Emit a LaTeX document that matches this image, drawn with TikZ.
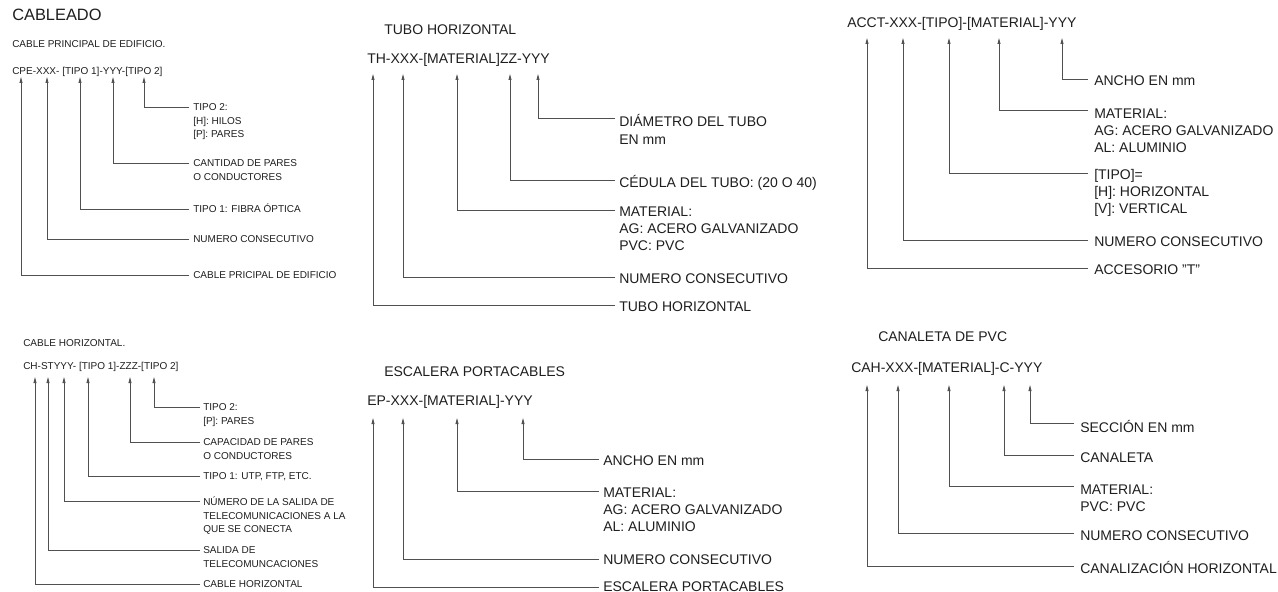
\documentclass[tikz,border=0pt]{standalone}
\usepackage{fontspec}
\setmainfont{Liberation Sans}
\usetikzlibrary{arrows.meta}
\definecolor{txt}{HTML}{1E1E1E}
\definecolor{ln}{HTML}{505050}
\tikzset{
  lblS/.style={anchor=base west, inner sep=0pt, text=txt, font=\fontsize{7.5}{10.1}\selectfont},
  lblL/.style={anchor=base west, inner sep=0pt, text=txt, font=\fontsize{10.5}{13}\selectfont},
  ttl/.style={anchor=base west, inner sep=0pt, text=txt, font=\fontsize{12.3}{14}\selectfont},
  leader/.style={draw=ln, line width=0.6pt, -{Triangle[length=4.5pt,width=2.2pt]}}
}
\newcommand\mlines[1]{\begin{tabular}[t]{@{}l@{}}#1\end{tabular}}
\newcommand\mkleader[5]{%
  \coordinate (#1-t) at (#2,#3);
  \coordinate (#1-e) at (#5,#4);
  \draw[leader] (#1-e) -| (#1-t);
}
\begin{document}
\begin{tikzpicture}[x=0.75pt,y=-0.75pt]
\useasboundingbox (0,0) rectangle (1278,592);

% ---------------- Panel 1: CABLEADO ----------------
\node[ttl] (p1title) at (12,20.5) {CABLEADO};
\node[lblS] (p1sub) at (12,47.6) {CABLE PRINCIPAL DE EDIFICIO.};
\node[lblS] (p1code) at (12,74.6) {CPE-XXX- [TIPO 1]-YYY-[TIPO 2]};
\node[lblS] (p1a) at (193,110.6) {\mlines{TIPO 2:\\{}[H]: HILOS\\{}[P]: PARES}};
\node[lblS] (p1b) at (193,166.6) {\mlines{CANTIDAD DE PARES\\O CONDUCTORES}};
\node[lblS] (p1c) at (193,212.6) {TIPO 1: FIBRA ÓPTICA};
\node[lblS] (p1d) at (193,242.6) {NUMERO CONSECUTIVO};
\node[lblS] (p1e) at (193,278.6) {CABLE PRICIPAL DE EDIFICIO};
\mkleader{l1a}{144}{77}{107}{189}
\mkleader{l1b}{113}{77}{163}{189}
\mkleader{l1c}{80}{77}{209}{189}
\mkleader{l1d}{47}{77}{239}{189}
\mkleader{l1e}{21}{77}{275}{189}

% ---------------- Panel 2: CABLE HORIZONTAL ----------------
\node[lblS] (p2sub) at (23,346.6) {CABLE HORIZONTAL.};
\node[lblS] (p2code) at (23,369.6) {CH-STYYY- [TIPO 1]-ZZZ-[TIPO 2]};
\node[lblS] (p2a) at (203,410.6) {\mlines{TIPO 2:\\{}[P]: PARES}};
\node[lblS] (p2b) at (203,445.6) {\mlines{CAPACIDAD DE PARES\\O CONDUCTORES}};
\node[lblS] (p2c) at (203,479.6) {TIPO 1: UTP, FTP, ETC.};
\node[lblS] (p2d) at (203,505.6) {\mlines{NÚMERO DE LA SALIDA DE\\TELECOMUNICACIONES A LA\\QUE SE CONECTA}};
\node[lblS] (p2e) at (203,553.6) {\mlines{SALIDA DE\\TELECOMUNCACIONES}};
\node[lblS] (p2f) at (203,587.6) {CABLE HORIZONTAL};
\mkleader{l2a}{154}{377}{407}{200}
\mkleader{l2b}{130}{377}{442}{200}
\mkleader{l2c}{88}{377}{476}{200}
\mkleader{l2d}{64}{377}{501}{200}
\mkleader{l2e}{48}{377}{550}{200}
\mkleader{l2f}{35}{377}{584}{200}

% ---------------- Panel 3: TUBO HORIZONTAL ----------------
\node[lblL] (p3title) at (384,35) {TUBO HORIZONTAL};
\node[lblL] (p3code) at (367,64) {TH-XXX-[MATERIAL]ZZ-YYY};
\node[lblL] (p3a) at (619,127) {\mlines{DIÁMETRO DEL TUBO\\EN mm}};
\node[lblL] (p3b) at (619,187) {CÉDULA DEL TUBO: (20 O 40)};
\node[lblL] (p3c) at (619,216) {\mlines{MATERIAL:\\AG: ACERO GALVANIZADO\\PVC: PVC}};
\node[lblL] (p3d) at (619,283) {NUMERO CONSECUTIVO};
\node[lblL] (p3e) at (619,311) {TUBO HORIZONTAL};
\mkleader{l3a}{538}{74}{118}{615}
\mkleader{l3b}{510}{74}{180}{615}
\mkleader{l3c}{457}{74}{210}{615}
\mkleader{l3d}{403}{74}{277}{615}
\mkleader{l3e}{373}{74}{305}{615}

% ---------------- Panel 4: ESCALERA PORTACABLES ----------------
\node[lblL] (p4title) at (384,376) {ESCALERA PORTACABLES};
\node[lblL] (p4code) at (367,405) {EP-XXX-[MATERIAL]-YYY};
\node[lblL] (p4a) at (603,465) {ANCHO EN mm};
\node[lblL] (p4b) at (603,497) {\mlines{MATERIAL:\\AG: ACERO GALVANIZADO\\AL: ALUMINIO}};
\node[lblL] (p4c) at (603,564) {NUMERO CONSECUTIVO};
\node[lblL] (p4d) at (603,591) {ESCALERA PORTACABLES};
\mkleader{l4a}{523}{418}{459}{599}
\mkleader{l4b}{457}{418}{491}{599}
\mkleader{l4c}{403}{418}{559}{599}
\mkleader{l4d}{373}{418}{587}{599}

% ---------------- Panel 5: ACCT ----------------
\node[lblL] (p5code) at (847,28) {ACCT-XXX-[TIPO]-[MATERIAL]-YYY};
\node[lblL] (p5a) at (1094,85) {ANCHO EN mm};
\node[lblL] (p5b) at (1094,118) {\mlines{MATERIAL:\\AG: ACERO GALVANIZADO\\AL: ALUMINIO}};
\node[lblL] (p5c) at (1094,179) {\mlines{[TIPO]=\\{}[H]: HORIZONTAL\\{}[V]: VERTICAL}};
\node[lblL] (p5d) at (1094,246) {NUMERO CONSECUTIVO};
\node[lblL] (p5e) at (1094,274) {ACCESORIO "T"};
\mkleader{l5a}{1062}{38}{79}{1088}
\mkleader{l5b}{999}{38}{110}{1088}
\mkleader{l5c}{949}{38}{173}{1088}
\mkleader{l5d}{903}{38}{240}{1088}
\mkleader{l5e}{867}{38}{268}{1088}

% ---------------- Panel 6: CANALETA DE PVC ----------------
\node[lblL] (p6title) at (878,341) {CANALETA DE PVC};
\node[lblL] (p6code) at (851,372) {CAH-XXX-[MATERIAL]-C-YYY};
\node[lblL] (p6a) at (1080,432) {SECCIÓN EN mm};
\node[lblL] (p6b) at (1080,462) {CANALETA};
\node[lblL] (p6c) at (1080,494) {\mlines{MATERIAL:\\PVC: PVC}};
\node[lblL] (p6d) at (1080,540) {NUMERO CONSECUTIVO};
\node[lblL] (p6e) at (1080,573) {CANALIZACIÓN HORIZONTAL};
\mkleader{l6a}{1030}{385}{423}{1074}
\mkleader{l6b}{1004}{385}{455}{1074}
\mkleader{l6c}{949}{385}{486}{1074}
\mkleader{l6d}{898}{385}{533}{1074}
\mkleader{l6e}{867}{385}{566}{1074}
\end{tikzpicture}
\end{document}
